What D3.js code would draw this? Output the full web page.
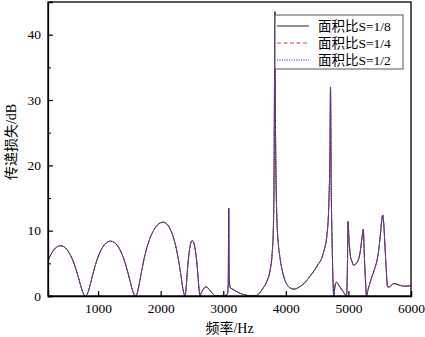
<!DOCTYPE html>
<html>
<head>
<meta charset="utf-8">
<script src="https://cdn.jsdelivr.net/npm/d3@7"></script>
<style>
  body { margin: 0; background: #fff; }
  text { font-family: 'Liberation Serif', 'Noto Sans CJK SC', serif; }
</style>
</head>
<body>
<div id="chart"></div>
<script>
// frequency samples (Hz)
const freq = [
  200, 250, 300, 350, 400, 450, 500, 550, 600, 650, 700, 725, 750, 775, 800,
  825, 850, 875, 900, 950, 1000, 1050, 1100, 1150, 1200, 1250, 1300, 1350, 1400, 1450, 1500, 1525, 1550, 1575, 1600,
  1625, 1650, 1700, 1750, 1800, 1850, 1900, 1950, 2000, 2040, 2100, 2150, 2200, 2250, 2300, 2325, 2350, 2370, 2390,
  2410, 2430, 2450, 2470, 2490, 2505, 2520, 2545, 2570, 2590, 2610, 2630,
  2650, 2680, 2720, 2760, 2800, 2840, 2870, 2950, 3000, 3050, 3070, 3080, 3088, 3095, 3110, 3140, 3250, 3350, 3450, 3540,
  3600, 3650, 3700, 3750, 3780, 3800, 3812, 3820, 3826, 3832, 3842, 3855, 3880, 3908, 3960, 4015, 4067, 4130, 4200,
  4300, 4400, 4500, 4600, 4660, 4690, 4705, 4714, 4724, 4740, 4755, 4765,
  4790, 4810, 4850, 4900, 4950, 4970, 4985, 4994, 5010, 5030, 5060, 5085, 5120, 5160, 5190, 5215, 5238, 5255, 5275, 5286,
  5320, 5370, 5420, 5460, 5490, 5515, 5535, 5548, 5565, 5585, 5605, 5625, 5660, 5700, 5730, 5800, 5900, 6000
];

// transmission loss (dB), area ratio S = 1/8
const tlS8 = [
  5.37, 6.41, 7.14, 7.56, 7.70, 7.56, 7.14, 6.41, 5.37, 4.0, 2.35, 1.50, 0.74, 0.20, 0,
  0.24, 0.88, 1.76, 2.71, 4.51, 5.98, 7.07, 7.82, 8.26, 8.40, 8.26, 7.82, 7.07, 5.98, 4.51, 2.71, 1.76, 0.88, 0.24, 0,
  0.41, 1.44, 4.02, 6.29, 8.03, 9.33, 10.26, 10.88, 11.22, 11.30, 11.01, 10.29, 9.08, 7.25, 4.67, 3.08, 1.45, 0.42, 0,
  1.59, 4.21, 6.28, 7.63, 8.34, 8.5, 8.37, 7.53, 5.85, 3.82, 1.39, 0,
  0.5, 1.0, 1.4, 1.2, 0.7, 0.25, 0.05, 0.02, 0.05, 0.15, 0.4, 2, 13.4, 3, 1.3, 1.1, 0.5, 0.15, 0.05, 0.1,
  0.7, 1.4, 2.3, 4.0, 6.3, 10, 18, 35, 43.5, 30, 19, 12.5, 8, 5.8, 3.2, 1.8, 1.25, 1.05, 1.3,
  2.0, 3.2, 4.6, 6.6, 9.6, 15, 22, 32, 18, 8, 2, 0,
  1.8, 2.1, 1.6, 0.9, 0.2, 0, 5, 11.4, 8.5, 6.3, 5.2, 4.7, 4.9, 5.6, 6.8, 8.8, 10.2, 6, 2, 0,
  1.2, 2.8, 4.2, 5.6, 7.5, 9.8, 11.8, 12.4, 11, 7.5, 4, 1.4, 1.4, 1.8, 1.9, 1.7, 1.5, 1.6
];
// the three area ratios give curves that overlap everywhere in the figure
const tlS4 = tlS8;
const tlS2 = tlS8;

const seriesNames = ['面积比S=1/8', '面积比S=1/4', '面积比S=1/2'];
const xTicks = [1000, 2000, 3000, 4000, 5000, 6000];
const yTicks = [0, 10, 20, 30, 40];

const width = 425;
const height = 337;
const margin = { top: 2, right: 14, bottom: 41, left: 48 };

const series = [
  { name: seriesNames[0], values: tlS8, color: '#222', dash: null },
  { name: seriesNames[1], values: tlS4, color: '#d04848', dash: '4,2.5' },
  { name: seriesNames[2], values: tlS2, color: '#3434c0', dash: '1.2,1.2' },
];

const svg = d3
  .select('#chart')
  .append('svg')
  .attr('width', width)
  .attr('height', height);

const x = d3.scaleLinear().domain([200, 6000]).range([margin.left, width - margin.right]);
const y = d3.scaleLinear().domain([0, 45]).range([height - margin.bottom, margin.top]);

const line = d3
  .line()
  .x((d) => x(d[0]))
  .y((d) => y(d[1]))
  .curve(d3.curveMonotoneX);

svg
  .append('clipPath')
  .attr('id', 'plot-clip')
  .append('rect')
  .attr('x', margin.left)
  .attr('y', margin.top)
  .attr('width', width - margin.left - margin.right)
  .attr('height', height - margin.top - margin.bottom);

const plot = svg.append('g').attr('clip-path', 'url(#plot-clip)');

series.forEach((s) => {
  plot
    .append('path')
    .datum(freq.map((f, i) => [f, s.values[i]]))
    .attr('d', line)
    .attr('fill', 'none')
    .attr('stroke', s.color)
    .attr('stroke-width', 1)
    .attr('stroke-dasharray', s.dash);
});

// axes, ticks pointing inward
const xAxis = svg
  .append('g')
  .attr('transform', `translate(0,${y(0)})`)
  .call(d3.axisBottom(x).tickValues(xTicks).tickSize(-5).tickPadding(7).tickFormat(d3.format('d')));

const yAxis = svg
  .append('g')
  .attr('transform', `translate(${x(200)},0)`)
  .call(d3.axisLeft(y).tickValues(yTicks).tickSize(-5).tickPadding(7));

svg
  .append('g')
  .attr('transform', `translate(${x(200)},0)`)
  .call(d3.axisLeft(y).tickValues([5, 15, 25, 35]).tickSize(-3).tickFormat(''))
  .select('.domain')
  .remove();

[xAxis, yAxis].forEach((g) => {
  g.selectAll('text').attr('fill', '#000').style('font-size', '13.5px');
  g.selectAll('line').attr('stroke', '#000').attr('stroke-width', 1.2);
  g.select('.domain').attr('stroke', '#000').attr('stroke-width', 1.3);
});

// frame
svg
  .append('rect')
  .attr('x', x(200))
  .attr('y', y(45))
  .attr('width', x(6000) - x(200))
  .attr('height', y(0) - y(45))
  .attr('fill', 'none')
  .attr('stroke', '#000')
  .attr('stroke-width', 1.3);

svg
  .append('text')
  .attr('x', (x(200) + x(6000)) / 2)
  .attr('y', 333)
  .attr('text-anchor', 'middle')
  .style('font-size', '14px')
  .text('频率/Hz');

svg
  .append('text')
  .attr('transform', `translate(16,${142}) rotate(-90)`)
  .attr('text-anchor', 'middle')
  .style('font-size', '14px')
  .text('传递损失/dB');

// legend
const legend = svg.append('g').attr('transform', 'translate(275,15)');
legend
  .append('rect')
  .attr('width', 128)
  .attr('height', 54)
  .attr('fill', '#fff')
  .attr('stroke', '#555')
  .attr('stroke-width', 1);

series.forEach((s, i) => {
  const row = legend.append('g').attr('transform', `translate(0,${11 + i * 17})`);
  row
    .append('line')
    .attr('x1', 2)
    .attr('x2', 34)
    .attr('stroke', s.color)
    .attr('stroke-width', 1)
    .attr('stroke-dasharray', s.dash);
  row
    .append('text')
    .attr('x', 43)
    .attr('dy', '0.35em')
    .style('font-size', '13.5px')
    .text(s.name);
});
</script>
</body>
</html>
